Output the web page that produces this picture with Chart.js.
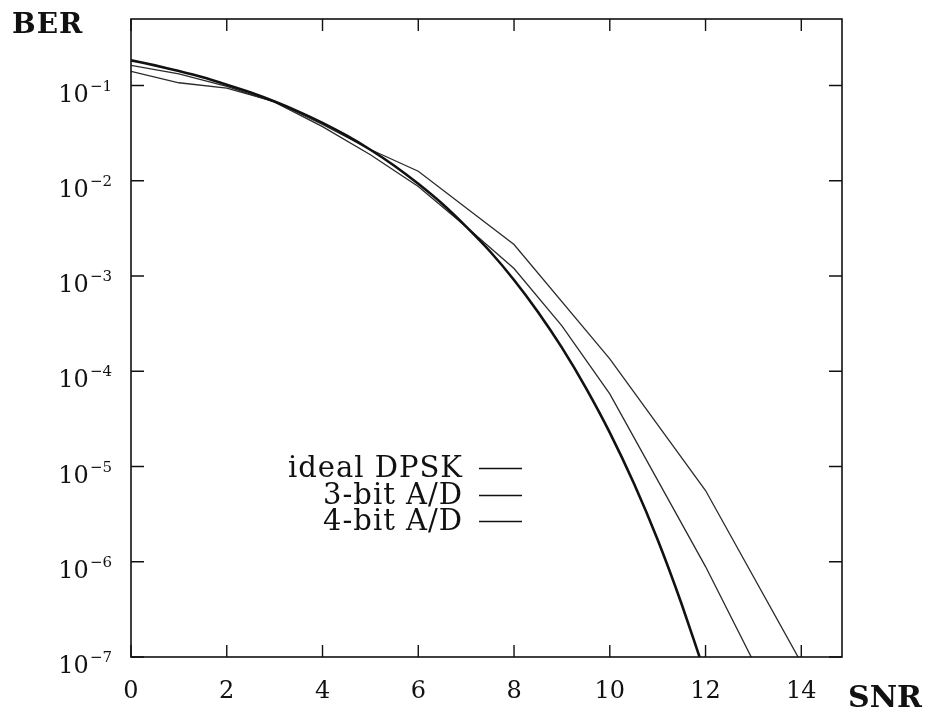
<!DOCTYPE html>
<html>
<head>
<meta charset="utf-8">
<script src="https://cdn.jsdelivr.net/npm/chart.js@4"></script>
<style>
  html, body { margin: 0; padding: 0; background: #fff; }
  #wrap { width: 936px; height: 713px; }
</style>
</head>
<body>
<div id="wrap"><canvas id="ber_chart" width="936" height="713"></canvas></div>
<script>
// values
const snrIdeal = [0, 0.5, 1, 1.5, 2, 2.5, 3, 3.5, 4, 4.5, 5, 5.5, 6, 6.5, 7, 7.5, 8, 8.5, 9, 9.5, 10, 10.5, 11, 11.5, 12];
const berIdeal = [0.184, 0.163, 0.142, 0.122, 0.102, 0.0845, 0.068, 0.0533, 0.0406, 0.0299, 0.0212, 0.0144, 0.0093, 0.00574,
  0.0033, 0.00181, 0.00091, 0.00042, 0.000177, 0.000067, 0.0000227, 0.0000067, 0.0000017, 0.00000036, 0.000000065];
const snr3bit = [0, 1, 2, 3, 4, 5, 6, 8, 10, 12, 14];
const ber3bit = [0.141, 0.107, 0.094, 0.068, 0.039, 0.0213, 0.0126, 0.00214, 0.000135, 0.0000056, 0.000000087];
const snr4bit = [0, 1, 2, 3, 4, 5, 6, 7, 8, 9, 10, 12, 13];
const ber4bit = [0.163, 0.133, 0.098, 0.067, 0.037, 0.0188, 0.0087, 0.0033, 0.0012, 0.0003, 0.000058, 0.00000089, 0.00000009];
const seriesLabels = ['ideal DPSK', '3-bit A/D', '4-bit A/D'];
const xTicks = [0, 2, 4, 6, 8, 10, 12, 14];
const yTicks = [1e-1, 1e-2, 1e-3, 1e-4, 1e-5, 1e-6, 1e-7];
const yTickExp = ['−1', '−2', '−3', '−4', '−5', '−6', '−7'];

const serif = '"DejaVu Serif", serif';

function pts(xs, ys) {
  return xs.map((x, i) => ({ x: x, y: ys[i] }));
}

// frame with inward ticks, tick labels, axis names, legend
const framePlugin = {
  id: 'frame',
  afterDraw(chart) {
    const ctx = chart.ctx;
    const a = chart.chartArea;
    const xs = chart.scales.x, ys = chart.scales.y;
    ctx.save();
    ctx.strokeStyle = '#111';
    ctx.lineWidth = 1.6;
    ctx.strokeRect(a.left, a.top, a.right - a.left, a.bottom - a.top);
    ctx.lineWidth = 1.4;
    ctx.beginPath();
    xTicks.forEach(v => {
      const px = xs.getPixelForValue(v);
      ctx.moveTo(px, a.bottom); ctx.lineTo(px, a.bottom - 12);
      ctx.moveTo(px, a.top); ctx.lineTo(px, a.top + 12);
    });
    yTicks.forEach(v => {
      const py = ys.getPixelForValue(v);
      ctx.moveTo(a.left, py); ctx.lineTo(a.left + 13, py);
      ctx.moveTo(a.right, py); ctx.lineTo(a.right - 13, py);
    });
    ctx.stroke();

    ctx.fillStyle = '#111';
    // x tick labels
    ctx.font = '24px ' + serif;
    ctx.textAlign = 'center';
    ctx.textBaseline = 'alphabetic';
    xTicks.forEach(v => {
      ctx.fillText(String(v), xs.getPixelForValue(v), a.bottom + 41);
    });
    // y tick labels 10^-n
    yTicks.forEach((v, i) => {
      const py = ys.getPixelForValue(v);
      ctx.font = '15px ' + serif;
      const supW = ctx.measureText(yTickExp[i]).width;
      const right = a.left - 19;
      ctx.textAlign = 'left';
      ctx.fillText(yTickExp[i], right - supW, py + 5);
      ctx.font = '24px ' + serif;
      ctx.textAlign = 'right';
      ctx.fillText('10', right - supW - 1, py + 16);
    });
    // axis names
    ctx.textAlign = 'left';
    ctx.font = 'bold 28px ' + serif;
    ctx.letterSpacing = '1px';
    ctx.fillText('BER', 12, 33);
    ctx.font = 'bold 30px ' + serif;
    ctx.letterSpacing = '0px';
    ctx.fillText('SNR', 848, 707);

    // legend
    const rows = [468, 495, 521];
    ctx.font = '29px ' + serif;
    ctx.letterSpacing = '1px';
    ctx.textAlign = 'right';
    ctx.textBaseline = 'middle';
    chart.data.datasets.forEach((ds, i) => {
      ctx.fillText(ds.label, 463, rows[i] + 1);
      ctx.strokeStyle = '#111';
      ctx.lineWidth = 1.6;
      ctx.beginPath();
      ctx.moveTo(479, rows[i] + 0.5); ctx.lineTo(522, rows[i] + 0.5);
      ctx.stroke();
    });
    ctx.restore();
  }
};

const ctx_ber = document.getElementById('ber_chart');
const data_ber = {
  datasets: [{
    label: seriesLabels[0],
    data: pts(snrIdeal, berIdeal),
    borderColor: '#111',
    borderWidth: 2.6,
    tension: 0.2
  }, {
    label: seriesLabels[1],
    data: pts(snr3bit, ber3bit),
    borderColor: '#2a2a2a',
    borderWidth: 1.3,
    tension: 0
  }, {
    label: seriesLabels[2],
    data: pts(snr4bit, ber4bit),
    borderColor: '#2a2a2a',
    borderWidth: 1.3,
    tension: 0
  }]
};
const config_ber = {
  type: 'line',
  data: data_ber,
  options: {
    responsive: false,
    animation: false,
    layout: { padding: { top: 19, right: 94, left: 0, bottom: 0 } },
    elements: { point: { radius: 0 } },
    plugins: { legend: { display: false }, tooltip: { enabled: false } },
    scales: {
      x: {
        type: 'linear', min: 0, max: 14.85,
        grid: { display: false }, border: { display: false },
        ticks: { display: false },
        afterFit(s) { s.height = 56; }
      },
      y: {
        type: 'logarithmic', min: 1e-7, max: 0.5,
        grid: { display: false }, border: { display: false },
        ticks: { display: false },
        afterFit(s) { s.width = 131; }
      }
    }
  },
  plugins: [framePlugin]
};
const myChart_ber = new Chart(ctx_ber, config_ber);
</script>
</body>
</html>
